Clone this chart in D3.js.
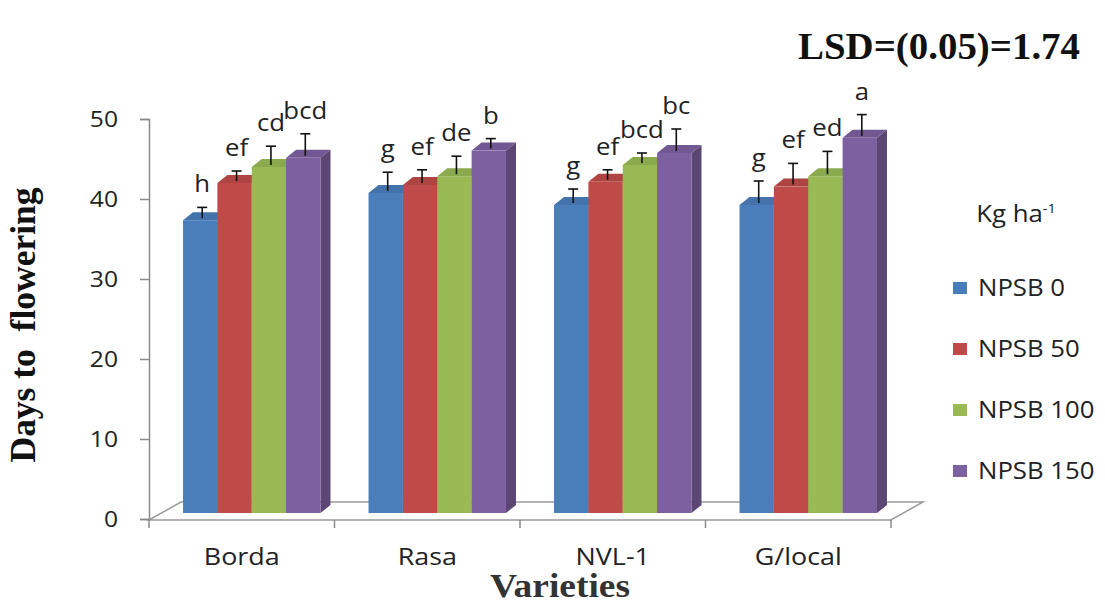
<!DOCTYPE html>
<html>
<head>
<meta charset="utf-8">
<script src="https://cdn.jsdelivr.net/npm/d3@7"></script>
<style>
  html, body { margin: 0; padding: 0; background: #fff; }
  svg { display: block; }
</style>
</head>
<body>
<div id="chart"></div>
<script>
// ---- data ----
const categories = ["Borda", "Rasa", "NVL-1", "G/local"];
const seriesNames = ["NPSB 0", "NPSB 50", "NPSB 100", "NPSB 150"];
const npsb0   = [36.6, 40.0, 38.5, 38.5];
const npsb50  = [41.25, 41.0, 41.4, 40.8];
const npsb100 = [43.25, 42.1, 43.5, 42.1];
const npsb150 = [44.4, 45.3, 45.0, 46.9];
const err0   = [1.1, 2.1, 1.5, 2.5];
const err50  = [1.0, 1.4, 1.0, 2.4];
const err100 = [2.1, 2.0, 1.0, 2.6];
const err150 = [2.5, 1.0, 2.5, 2.4];
const let0   = ["h", "g", "g", "g"];
const let50  = ["ef", "ef", "ef", "ef"];
const let100 = ["cd", "de", "bcd", "ed"];
const let150 = ["bcd", "b", "bc", "a"];
const yTicks = [0, 10, 20, 30, 40, 50];
const colors = ["#4A7EBB", "#BE4B48", "#98B954", "#7D60A0"];
const yTitle = "Days to\u00A0 flowering";
const xTitle = "Varieties";
const lsdText = "LSD=(0.05)=1.74";
const legendTitle = "Kg ha";
const legendSup = "-1";

const values = [npsb0, npsb50, npsb100, npsb150];
const errors = [err0, err50, err100, err150];
const letters = [let0, let50, let100, let150];

// ---- layout ----
const W = 1105, H = 606;
const svg = d3.select("#chart").append("svg").attr("width", W).attr("height", H);
const sans = "'Open Sans', 'Noto Sans', sans-serif";
const serif = "'Liberation Serif', 'DejaVu Serif', serif";
const SX = 1.12; // horizontal stretch of sans labels

const x0 = d3.scaleBand().domain(categories).range([149, 891]).paddingInner(0.259).paddingOuter(0.1295);
const x1 = d3.scaleBand().domain(seriesNames).range([0, x0.bandwidth()]);
const y = d3.scaleLinear().domain([0, 50]).range([519, 119]);

const FX = 10, FY = -6;   // front face offset into depth
const DX = 10, DY = -8;   // bar depth
const FLX = 32, FLY = -18; // floor depth

function stretchedText(g, x, yy, txt, size, anchor, fill) {
  return g.append("text")
    .attr("transform", `translate(${x},${yy}) scale(${SX},1)`)
    .attr("text-anchor", anchor)
    .attr("font-family", sans)
    .attr("font-size", size)
    .attr("fill", fill || "#222")
    .text(txt);
}

// floor
const x0r = x0.range();
svg.append("polygon")
  .attr("points", [[x0r[0], y(0) + 1], [x0r[1], y(0) + 1], [x0r[1] + FLX, y(0) + 1 + FLY], [x0r[0] + FLX, y(0) + 1 + FLY]].map(p => p.join(",")).join(" "))
  .attr("fill", "none").attr("stroke", "#9a9a9a").attr("stroke-width", 1.5);

// y axis
const yAxis = svg.append("g").attr("transform", `translate(${x0r[0]},0)`)
  .call(d3.axisLeft(y).tickValues(yTicks).tickSize(9).tickPadding(0).tickFormat(d3.format("d")));
yAxis.select(".domain").attr("stroke", "#8a8a8a").attr("stroke-width", 1.5);
yAxis.selectAll(".tick line").attr("stroke", "#8a8a8a").attr("stroke-width", 1.5);
yAxis.selectAll(".tick text")
  .attr("x", null)
  .attr("transform", `translate(-31,0) scale(${SX},1)`)
  .attr("font-family", sans).attr("font-size", 22).attr("fill", "#222");

// x axis boundary ticks
const step = x0.step();
const bounds = categories.map(c => x0(c) - step * x0.paddingInner() / 2).concat([x0r[1]]);
svg.append("g").selectAll("line").data(bounds).join("line")
  .attr("x1", d => d).attr("x2", d => d)
  .attr("y1", y(0) + 1).attr("y2", y(0) + 9)
  .attr("stroke", "#8a8a8a").attr("stroke-width", 1.5);

// category labels
const catG = svg.append("g");
categories.forEach(c => stretchedText(catG, x0(c) + x0.bandwidth() / 2, 565, c, 24, "middle"));

// bars
const barsG = svg.append("g");
const w = x1.bandwidth();
categories.forEach((c, ci) => {
  seriesNames.forEach((s, si) => {
    const v = values[si][ci];
    const col = colors[si];
    const xl = x0(c) + x1(s) + FX;
    const top = y(v) + FY;
    const bot = y(0) + FY;
    barsG.append("polygon")
      .attr("points", [[xl + w, top], [xl + w + DX, top + DY], [xl + w + DX, bot + DY], [xl + w, bot]].map(p => p.join(",")).join(" "))
      .attr("fill", d3.color(col).darker(0.9));
    barsG.append("polygon")
      .attr("points", [[xl, top], [xl + DX, top + DY], [xl + w + DX, top + DY], [xl + w, top]].map(p => p.join(",")).join(" "))
      .attr("fill", d3.color(col).darker(0.25));
    barsG.append("rect")
      .attr("x", xl).attr("y", top).attr("width", w).attr("height", bot - top)
      .attr("fill", col);
  });
});

// error bars + letters
const errG = svg.append("g");
categories.forEach((c, ci) => {
  seriesNames.forEach((s, si) => {
    const v = values[si][ci], e = errors[si][ci];
    const ex = x0(c) + x1(s) + FX + w / 2 + 2;
    const yTop = y(v) + FY + DY / 2;
    const yCap = y(v + e) + FY + DY / 2;
    errG.append("line").attr("x1", ex).attr("x2", ex).attr("y1", yTop + 2).attr("y2", yCap)
      .attr("stroke", "#111").attr("stroke-width", 1.6);
    errG.append("line").attr("x1", ex - 5).attr("x2", ex + 5).attr("y1", yCap).attr("y2", yCap)
      .attr("stroke", "#111").attr("stroke-width", 1.6);
    stretchedText(errG, ex, yCap - 15, letters[si][ci], 23, "middle");
  });
});

// titles
svg.append("text")
  .attr("transform", "translate(35,325) rotate(-90)")
  .attr("text-anchor", "middle")
  .attr("font-family", serif).attr("font-weight", "bold").attr("font-size", 35)
  .attr("textLength", 275).attr("lengthAdjust", "spacingAndGlyphs")
  .attr("fill", "#111")
  .text(yTitle);

svg.append("text")
  .attr("x", 560).attr("y", 597)
  .attr("text-anchor", "middle")
  .attr("font-family", serif).attr("font-weight", "bold").attr("font-size", 34)
  .attr("textLength", 140).attr("lengthAdjust", "spacingAndGlyphs")
  .attr("fill", "#333")
  .text(xTitle);

svg.append("text")
  .attr("x", 798).attr("y", 59)
  .attr("font-family", serif).attr("font-weight", "bold").attr("font-size", 38)
  .attr("textLength", 282).attr("lengthAdjust", "spacingAndGlyphs")
  .attr("fill", "#111")
  .text(lsdText);

// legend
const lg = svg.append("g");
const lt = lg.append("text")
  .attr("transform", `translate(1016,222) scale(${SX},1)`)
  .attr("text-anchor", "middle")
  .attr("font-family", sans).attr("font-size", 23).attr("fill", "#222");
lt.append("tspan").text(legendTitle);
lt.append("tspan").attr("font-size", 13).attr("dy", -9).text(legendSup);

seriesNames.forEach((s, i) => {
  const cy = 288 + i * 61;
  lg.append("rect").attr("x", 953).attr("y", cy - 6).attr("width", 14).attr("height", 12).attr("fill", colors[i]);
  stretchedText(lg, 978, cy + 8, s, 23, "start");
});
</script>
</body>
</html>
